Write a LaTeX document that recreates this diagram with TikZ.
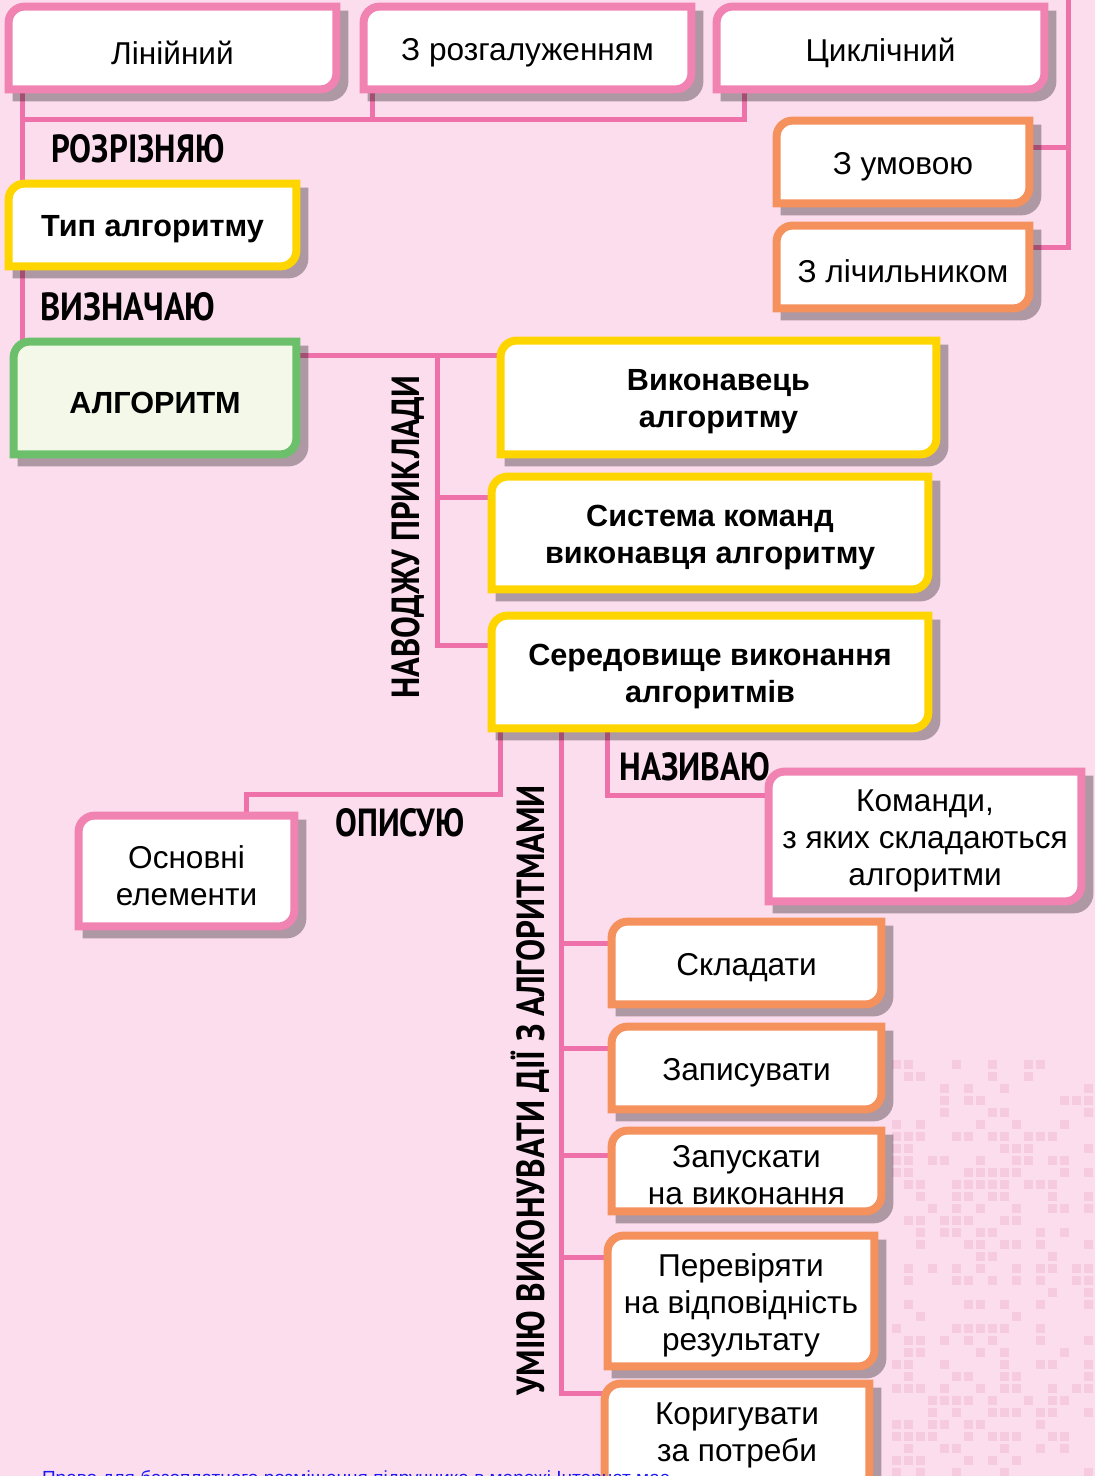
\documentclass[tikz,border=0pt]{standalone}
\usepackage{fontspec}
\setmainfont{Liberation Sans}
\newfontfamily\handfont{PT Sans}
\usepackage{graphicx}

\definecolor{bgc}{HTML}{FCDDEE}
\definecolor{linkc}{HTML}{EE72A9}
\definecolor{pinkc}{HTML}{F083B2}
\definecolor{orangec}{HTML}{F4915C}
\definecolor{yellowc}{HTML}{FFD500}
\definecolor{greenc}{HTML}{6DC06B}
\definecolor{greenfill}{HTML}{F4F8E8}
\definecolor{dotc}{HTML}{F6CBDF}
\definecolor{footc}{HTML}{1A1AF0}

\pgfdeclarelayer{back}
\pgfdeclarelayer{links}
\pgfdeclarelayer{frames}
\pgfsetlayers{back,links,frames,main}

% frame with rounded top-left and bottom-right corners, plus its shadow
\newcommand{\tagframe}[3]{%
  \begin{pgfonlayer}{frames}
    \fill[black, opacity=.31] ([shift={(4,12)}]#1.south west) [rounded corners=10pt]
      -- ([shift={(4,4)}]#1.north west) [sharp corners]
      -- ([shift={(12,4)}]#1.north east) [rounded corners=10pt]
      -- ([shift={(12,12)}]#1.south east) [sharp corners] -- cycle;
    \draw[line width=4pt, draw=#2, fill=#3] (#1.south west) [rounded corners=8pt]
      -- (#1.north west) [sharp corners]
      -- (#1.north east) [rounded corners=8pt]
      -- (#1.south east) [sharp corners] -- cycle;
  \end{pgfonlayer}}
\newcommand{\hand}[2]{\resizebox{#1}{14pt}{\handfont\bfseries #2}}

\begin{document}
\begin{tikzpicture}[x=0.5pt, y=-0.5pt,
  tag/.style 2 args={minimum width=#1, minimum height=#2, inner sep=0pt},
  txt/.style={align=center, inner sep=0pt, yshift=-2.25pt,
    font=\fontsize{15.8}{18.5}\selectfont},
  strong/.style={font=\fontsize{15.3}{18.5}\selectfont\bfseries},
  link/.style={draw=linkc, line width=2.5pt}]
  \useasboundingbox (0,0) rectangle (1095,1476);
  \clip (0,0) rectangle (1095,1476);

  \begin{pgfonlayer}{back}
    \fill[bgc] (0,0) rectangle (1095,1476);
    \pgfmathsetseed{7}
    \foreach \i in {0,...,16}
      \foreach \j in {0,...,34} {
        \pgfmathsetmacro{\r}{rnd}
        \ifdim\r pt>0.6pt
          \fill[dotc] (892+12*\i, 1060+12*\j) rectangle ++(9,9);
        \fi}
  \end{pgfonlayer}

  % boxes
  \node[tag={163.5pt}{41pt}, label={[txt]center:Лінійний}] (lin) at (172.5,48) {};
  \node[tag={163.5pt}{41pt}, label={[txt]center:З розгалуженням}] (rozg) at (527.5,48) {};
  \node[tag={163.5pt}{41pt}, label={[txt]center:Циклічний}] (cykl) at (880.5,48) {};
  \node[tag={126pt}{41pt}, label={[txt]center:З умовою}] (umov) at (903,162) {};
  \node[tag={126pt}{41pt}, label={[txt]center:З лічильником}] (lich) at (903,267) {};
  \node[tag={143.5pt}{41pt}, label={[txt, strong]center:Тип алгоритму}] (typ) at (152.5,225) {};
  \node[tag={141pt}{56pt}, label={[txt, strong]center:АЛГОРИТМ}] (alg) at (155,398) {};
  \node[tag={217.5pt}{56.5pt}, label={[txt, strong]center:{Виконавець\\алгоритму}}] (vyk) at (718.5,397.5) {};
  \node[tag={218pt}{56pt}, label={[txt, strong]center:{Система команд\\виконавця алгоритму}}] (syst) at (710,533) {};
  \node[tag={218pt}{56pt}, label={[txt, strong]center:{Середовище виконання\\алгоритмів}}] (sere) at (710,672) {};
  \node[tag={156pt}{64.5pt}, label={[txt]center:{Команди,\\з яких складаються\\алгоритми}}] (koman) at (925,836.5) {};
  \node[tag={107.5pt}{55pt}, label={[txt]center:{Основні\\елементи}}] (osn) at (186.5,871) {};
  \node[tag={134.5pt}{41pt}, label={[txt]center:Складати}] (sklad) at (746.5,963) {};
  \node[tag={134.5pt}{41pt}, label={[txt]center:Записувати}] (zapys) at (746.5,1068) {};
  \node[tag={134.5pt}{40pt}, label={[txt]center:{Запускати\\на виконання}}] (zapusk) at (746.5,1171) {};
  \node[tag={133pt}{65pt}, label={[txt]center:{Перевіряти\\на відповідність\\результату}}] (perev) at (741,1301) {};
  \node[tag={132pt}{56pt}, label={[txt, yshift=4.75pt]center:{Коригувати\\за потреби}}] (koryg) at (737,1440) {};

  \foreach \n/\c/\f in {lin/pinkc/white, rozg/pinkc/white, cykl/pinkc/white,
      umov/orangec/white, lich/orangec/white, typ/yellowc/white,
      alg/greenc/greenfill, vyk/yellowc/white, syst/yellowc/white,
      sere/yellowc/white, koman/pinkc/white, osn/pinkc/white,
      sklad/orangec/white, zapys/orangec/white, zapusk/orangec/white,
      perev/orangec/white, koryg/orangec/white}
    \tagframe{\n}{\c}{\f};

  % connectors
  \begin{pgfonlayer}{links}
    \coordinate (corner) at (22,120);
    \coordinate (rtop) at (1068,0);
    \draw[link] (lin.south -| corner) -- (alg.north -| corner);
    \draw[link] (corner) -| ([xshift=14pt]cykl.south west);
    \draw[link] ([xshift=4.5pt]rozg.south west) -- ([xshift=4.5pt]rozg.south west |- corner);
    \draw[link] (rtop) |- ([yshift=9.5pt]lich.east);
    \draw[link] ([yshift=7pt]umov.east) -- ([yshift=7pt]umov.east -| rtop);

    \coordinate (fork) at (437,356);
    \draw[link] ([yshift=21pt]alg.east) -- (vyk.west |- fork);
    \draw[link] (fork) |- ([yshift=13.5pt]sere.west);
    \draw[link] ([yshift=18pt]syst.west) -- ([yshift=18pt]syst.west -| fork);

    \draw[link] ([xshift=4.5pt]sere.south west) -- ++(0,66) -| ([xshift=-24pt]osn.north east);
    \draw[link] ([xshift=58pt]sere.south west) |- ([yshift=20.75pt]koman.west);
    \coordinate (spine) at ([xshift=35pt]sere.south west);
    \draw[link] (spine) |- ([yshift=23.5pt]koryg.west);
    \foreach \n/\s in {sklad/10pt, zapys/10pt, zapusk/8pt, perev/22pt}
      \draw[link] ([yshift=\s]\n.west) -- ([yshift=\s]\n.west -| spine);
  \end{pgfonlayer}

  % hand-written labels
  \node (rozr) at (138,149) {\hand{86.5pt}{РОЗРІЗНЯЮ}};
  \node (vyzn) at (128,307) {\hand{87.5pt}{ВИЗНАЧАЮ}};
  \node[rotate=90] (navod) at (408,537) {\hand{161.5pt}{НАВОДЖУ ПРИКЛАДИ}};
  \node (opys) at (400,823) {\hand{64.5pt}{ОПИСУЮ}};
  \node (nazyv) at (695,767) {\hand{75.5pt}{НАЗИВАЮ}};
  \node[rotate=90] (umiju) at (533,1090) {\hand{305pt}{УМІЮ ВИКОНУВАТИ ДІ\smash{Ї} З АЛГОРИТМАМИ}};

  \node[anchor=base west, text=footc, font=\fontsize{9.5}{11}\selectfont] (foot) at (35,1484)
    {Право для безоплатного розміщення підручника в мережі Інтернет має};
\end{tikzpicture}
\end{document}
